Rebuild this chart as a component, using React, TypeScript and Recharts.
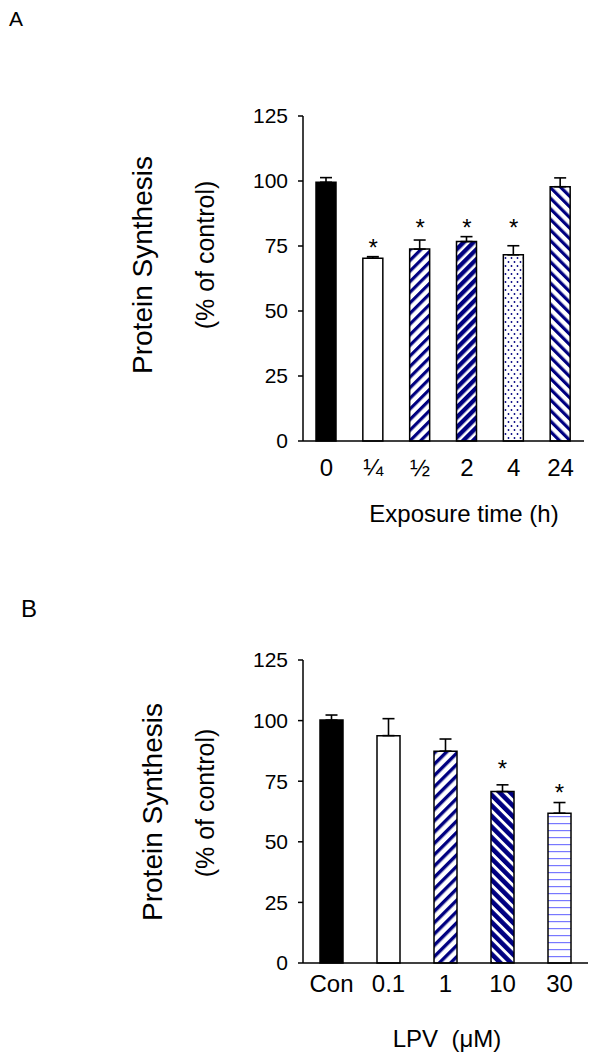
import React from "react";
import { Bar, Cell, ComposedChart, ErrorBar, Label, Scatter, XAxis, YAxis } from "recharts";

// panel A: time course
const TIME_LABELS = ["0", "¼", "½", "2", "4", "24"];
const TIME_MEANS = [99.5, 70.3, 73.8, 76.7, 71.6, 97.8];
const TIME_SEM = [1.8, 0.6, 3.5, 1.9, 3.5, 3.4];
const TIME_STARS = [null, 76, 84, 84, 84, null];

// panel B: dose response
const DOSE_LABELS = ["Con", "0.1", "1", "10", "30"];
const DOSE_MEANS = [100.2, 93.8, 87.4, 70.7, 61.8];
const DOSE_SEM = [2.1, 7.0, 5.0, 2.8, 4.4];
const DOSE_STARS = [null, null, null, 82, 72];

const Y_TICKS = [0, 25, 50, 75, 100, 125];

const TIME_FILLS = ["#000", "#fff", "url(#upA)", "url(#upDark)", "url(#dots)", "url(#downA)"];
const DOSE_FILLS = ["#000", "#fff", "url(#upB)", "url(#downDark)", "url(#hlines)"];

const NAVY = "#000080";
const FONT = "'Liberation Sans', Arial, sans-serif";

function rowsOf(labels: string[], means: number[], sem: number[], stars: (number | null)[]) {
  return labels.map((label, i) => ({ label, mean: means[i], err: [0, sem[i]], star: stars[i] }));
}

function Star(props: any) {
  const { cx, cy, payload } = props;
  if (payload == null || payload.star == null || cx == null || cy == null || isNaN(cy)) return <g />;
  return (
    <text x={cx} y={cy + 13} textAnchor="middle" fontSize={24} fontFamily={FONT} fill="#000">
      *
    </text>
  );
}

function Patterns() {
  return (
    <svg width={0} height={0} style={{ position: "absolute" }}>
      <defs>
        <pattern id="upA" patternUnits="userSpaceOnUse" width={7.5} height={7.5} patternTransform="rotate(45)">
          <rect width={7.5} height={7.5} fill="#fff" />
          <rect width={3.2} height={7.5} fill={NAVY} />
        </pattern>
        <pattern id="upB" patternUnits="userSpaceOnUse" width={8} height={8} patternTransform="rotate(45)">
          <rect width={8} height={8} fill="#fff" />
          <rect width={3.4} height={8} fill={NAVY} />
        </pattern>
        <pattern id="upDark" patternUnits="userSpaceOnUse" width={7} height={7} patternTransform="rotate(45)">
          <rect width={7} height={7} fill="#fff" />
          <rect width={4.4} height={7} fill={NAVY} />
        </pattern>
        <pattern id="downA" patternUnits="userSpaceOnUse" width={7.5} height={7.5} patternTransform="rotate(-45)">
          <rect width={7.5} height={7.5} fill="#fff" />
          <rect width={3.2} height={7.5} fill={NAVY} />
        </pattern>
        <pattern id="downDark" patternUnits="userSpaceOnUse" width={7.5} height={7.5} patternTransform="rotate(-45)">
          <rect width={7.5} height={7.5} fill="#fff" />
          <rect width={4.6} height={7.5} fill={NAVY} />
        </pattern>
        <pattern id="dots" patternUnits="userSpaceOnUse" width={6} height={8}>
          <rect width={6} height={8} fill="#fff" />
          <circle cx={1.5} cy={2} r={0.9} fill={NAVY} />
          <circle cx={4.5} cy={6} r={0.9} fill={NAVY} />
        </pattern>
        <pattern id="hlines" patternUnits="userSpaceOnUse" width={4} height={7}>
          <rect width={4} height={7} fill="#fff" />
          <rect y={3} width={4} height={1.2} fill="#7878ff" />
        </pattern>
      </defs>
    </svg>
  );
}

interface PanelProps {
  rows: any[];
  fills: string[];
  height: number;
  margin: { top: number; right: number; bottom: number; left: number };
  barSize: number;
  tickMargin: number;
  xTitle: string;
  xTitlePos: [number, number];
  yTitlePos: [number, number, number, number]; // main x, main y, sub x, sub y
}

function Panel({ rows, fills, height, margin, barSize, tickMargin, xTitle, xTitlePos, yTitlePos }: PanelProps) {
  return (
    <ComposedChart width={600} height={height} data={rows} margin={margin}>
      <XAxis
        dataKey="label"
        height={40}
        tickLine={false}
        tickMargin={tickMargin}
        axisLine={{ stroke: "#000", strokeWidth: 1.5 }}
        tick={{ fill: "#000", fontSize: 24, fontFamily: FONT }}
        interval={0}
      >
        <Label
          content={() => (
            <text x={xTitlePos[0]} y={xTitlePos[1]} textAnchor="middle" fontSize={24} fontFamily={FONT} fill="#000">
              {xTitle}
            </text>
          )}
        />
      </XAxis>
      <XAxis xAxisId="top" dataKey="label" orientation="top" height={0} tick={false} tickLine={false} axisLine={{ stroke: "#888" }} />
      <YAxis
        domain={[0, 125]}
        ticks={Y_TICKS}
        width={40}
        tickSize={5}
        tickMargin={10}
        axisLine={{ stroke: "#000", strokeWidth: 1.5 }}
        tickLine={{ stroke: "#000", strokeWidth: 1.5 }}
        tick={{ fill: "#000", fontSize: 21, fontFamily: FONT }}
      >
        <Label
          content={() => (
            <g fontFamily={FONT} fill="#000">
              <text x={yTitlePos[0]} y={yTitlePos[1]} textAnchor="middle" fontSize={28} transform={`rotate(-90 ${yTitlePos[0]} ${yTitlePos[1]})`}>
                Protein Synthesis
              </text>
              <text x={yTitlePos[2]} y={yTitlePos[3]} textAnchor="middle" fontSize={25} transform={`rotate(-90 ${yTitlePos[2]} ${yTitlePos[3]})`}>
                (% of control)
              </text>
            </g>
          )}
        />
      </YAxis>
      <YAxis yAxisId="r" orientation="right" domain={[0, 125]} width={0} tick={false} tickLine={false} axisLine={{ stroke: "#888" }} />
      <Bar dataKey="mean" barSize={barSize} stroke="#000" strokeWidth={1.5} isAnimationActive={false}>
        {rows.map((_, i) => (
          <Cell key={i} fill={fills[i]} />
        ))}
        <ErrorBar dataKey="err" width={6} stroke="#000" strokeWidth={1.6} direction="y" />
      </Bar>
      <Scatter dataKey="star" shape={Star} isAnimationActive={false} />
    </ComposedChart>
  );
}

export default function App() {
  const timeRows = rowsOf(TIME_LABELS, TIME_MEANS, TIME_SEM, TIME_STARS);
  const doseRows = rowsOf(DOSE_LABELS, DOSE_MEANS, DOSE_SEM, DOSE_STARS);
  return (
    <div style={{ position: "absolute", left: 0, top: 0, width: 600, height: 1057, background: "#fff", fontFamily: FONT }}>
      <Patterns />
      <div style={{ position: "absolute", left: 9, top: 8, fontSize: 21, lineHeight: 1 }}>A</div>
      <div style={{ position: "absolute", left: 21, top: 597, fontSize: 24, lineHeight: 1 }}>B</div>
      <div style={{ position: "absolute", left: 0, top: 0 }}>
        <Panel
          rows={timeRows}
          fills={TIME_FILLS}
          height={540}
          margin={{ top: 116, right: 16, bottom: 59, left: 263 }}
          barSize={20}
          tickMargin={12}
          xTitle="Exposure time (h)"
          xTitlePos={[464, 522]}
          yTitlePos={[152, 265, 214, 255]}
        />
      </div>
      <div style={{ position: "absolute", left: 0, top: 540 }}>
        <Panel
          rows={doseRows}
          fills={DOSE_FILLS}
          height={517}
          margin={{ top: 120, right: 12, bottom: 54, left: 263 }}
          barSize={23}
          tickMargin={6}
          xTitle={"LPV\u00a0 (μM)"}
          xTitlePos={[447, 507]}
          yTitlePos={[162, 272, 214, 263]}
        />
      </div>
    </div>
  );
}
